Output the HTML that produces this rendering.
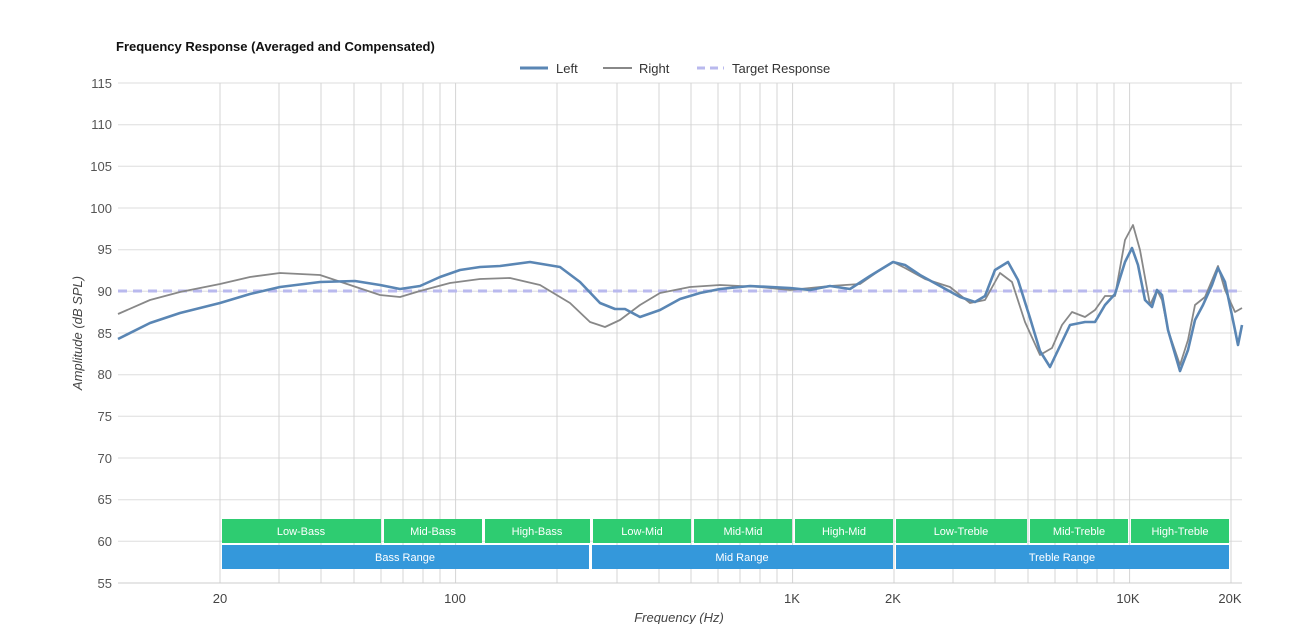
<!DOCTYPE html>
<html><head><meta charset="utf-8"><style>
body{margin:0;background:#fff;}
svg{display:block;font-family:"Liberation Sans",Arial,sans-serif;}
</style></head><body>
<svg width="1307" height="624" viewBox="0 0 1307 624">
<rect width="1307" height="624" fill="#fff"/>
<text x="116" y="51" font-size="13" font-weight="bold" fill="#111">Frequency Response (Averaged and Compensated)</text>
<g stroke="#ddd" stroke-width="1">
<line x1="118" x2="1242" y1="83" y2="83"/><line x1="118" x2="1242" y1="124.7" y2="124.7"/><line x1="118" x2="1242" y1="166.3" y2="166.3"/><line x1="118" x2="1242" y1="208" y2="208"/><line x1="118" x2="1242" y1="249.7" y2="249.7"/><line x1="118" x2="1242" y1="291.3" y2="291.3"/><line x1="118" x2="1242" y1="333" y2="333"/><line x1="118" x2="1242" y1="374.7" y2="374.7"/><line x1="118" x2="1242" y1="416.3" y2="416.3"/><line x1="118" x2="1242" y1="458" y2="458"/><line x1="118" x2="1242" y1="499.7" y2="499.7"/><line x1="118" x2="1242" y1="541.3" y2="541.3"/>
</g>
<g stroke="#d4d4d4" stroke-width="1">
<line x1="220" x2="220" y1="83" y2="583"/><line x1="279" x2="279" y1="83" y2="583"/><line x1="321" x2="321" y1="83" y2="583"/><line x1="354" x2="354" y1="83" y2="583"/><line x1="381" x2="381" y1="83" y2="583"/><line x1="403" x2="403" y1="83" y2="583"/><line x1="423" x2="423" y1="83" y2="583"/><line x1="440" x2="440" y1="83" y2="583"/><line x1="455.6" x2="455.6" y1="83" y2="583"/><line x1="557" x2="557" y1="83" y2="583"/><line x1="617" x2="617" y1="83" y2="583"/><line x1="659" x2="659" y1="83" y2="583"/><line x1="691" x2="691" y1="83" y2="583"/><line x1="718" x2="718" y1="83" y2="583"/><line x1="740" x2="740" y1="83" y2="583"/><line x1="760" x2="760" y1="83" y2="583"/><line x1="777" x2="777" y1="83" y2="583"/><line x1="792.6" x2="792.6" y1="83" y2="583"/><line x1="894" x2="894" y1="83" y2="583"/><line x1="953" x2="953" y1="83" y2="583"/><line x1="995" x2="995" y1="83" y2="583"/><line x1="1028" x2="1028" y1="83" y2="583"/><line x1="1055" x2="1055" y1="83" y2="583"/><line x1="1077" x2="1077" y1="83" y2="583"/><line x1="1097" x2="1097" y1="83" y2="583"/><line x1="1114" x2="1114" y1="83" y2="583"/><line x1="1129.6" x2="1129.6" y1="83" y2="583"/><line x1="1231" x2="1231" y1="83" y2="583"/>
</g>
<line x1="118" x2="1242" y1="583" y2="583" stroke="#ccc"/>
<g font-size="13" fill="#555" text-anchor="end">
<text x="112" y="88">115</text><text x="112" y="129">110</text><text x="112" y="171">105</text><text x="112" y="213">100</text><text x="112" y="254">95</text><text x="112" y="296">90</text><text x="112" y="338">85</text><text x="112" y="379">80</text><text x="112" y="421">75</text><text x="112" y="463">70</text><text x="112" y="504">65</text><text x="112" y="546">60</text><text x="112" y="588">55</text>
</g>
<g font-size="13" fill="#444" text-anchor="middle">
<text x="220" y="603">20</text><text x="455" y="603">100</text><text x="792" y="603">1K</text><text x="893" y="603">2K</text><text x="1128" y="603">10K</text><text x="1230" y="603">20K</text>
</g>
<text x="679" y="622" font-size="13" font-style="italic" fill="#444" text-anchor="middle">Frequency (Hz)</text>
<text transform="translate(82,333) rotate(-90)" font-size="13" font-style="italic" fill="#444" text-anchor="middle">Amplitude (dB SPL)</text>
<!-- bands -->
<g fill="#2ecc71"><rect x="222" y="519" width="159" height="24"/><rect x="384" y="519" width="98" height="24"/><rect x="485" y="519" width="105" height="24"/><rect x="593" y="519" width="98" height="24"/><rect x="694" y="519" width="98" height="24"/><rect x="795" y="519" width="98" height="24"/><rect x="896" y="519" width="131" height="24"/><rect x="1030" y="519" width="98" height="24"/><rect x="1131" y="519" width="98" height="24"/></g>
<g fill="#3498db"><rect x="222" y="545" width="367" height="24"/><rect x="592" y="545" width="301" height="24"/><rect x="896" y="545" width="333" height="24"/></g>
<g font-size="11" fill="#fff" text-anchor="middle">
<text x="301" y="535">Low-Bass</text><text x="433" y="535">Mid-Bass</text><text x="537" y="535">High-Bass</text><text x="642" y="535">Low-Mid</text><text x="743" y="535">Mid-Mid</text><text x="844" y="535">High-Mid</text><text x="961" y="535">Low-Treble</text><text x="1079" y="535">Mid-Treble</text><text x="1180" y="535">High-Treble</text>
<text x="405" y="561">Bass Range</text><text x="742" y="561">Mid Range</text><text x="1062" y="561">Treble Range</text>
</g>
<!-- target -->
<line x1="118" x2="1242" y1="291" y2="291" stroke="#b9b9ee" stroke-width="3" stroke-dasharray="9,6"/>
<!-- right -->
<polyline fill="none" stroke="#888" stroke-width="1.8" stroke-linejoin="round" points="118,314 150,300 180,292 220,284 250,277 280,273 320,275 350,285 380,295 400,297 420,291 450,283 480,279 510,278 540,285 570,303 590,322 605,327 620,320 640,305 660,293 690,287 720,285 760,287 790,290 810,288 830,286 860,284 880,270 893,262 905,268 925,279 950,287 970,303 985,300 1000,273 1012,282 1025,322 1040,355 1052,348 1062,325 1072,312 1085,317 1095,310 1105,296 1115,296 1125,240 1133,225 1140,250 1150,305 1157,290 1162,300 1168,330 1180,365 1188,340 1195,305 1205,297 1218,266 1225,290 1235,312 1242,308"/>
<!-- left -->
<polyline fill="none" stroke="#5a86b4" stroke-width="2.6" stroke-linejoin="round" points="118,339 150,323 180,313 220,303 250,294 280,287 320,282 355,281 380,285 400,289 420,286 440,277 460,270 480,267 500,266 530,262 560,267 580,282 600,303 615,309 625,309 640,317 660,310 680,299 700,293 720,289 750,286 790,288 810,290 830,286 850,289 870,276 893,262 905,265 920,275 940,286 960,297 975,302 985,296 995,270 1008,262 1018,280 1030,318 1040,351 1050,367 1060,346 1070,325 1085,322 1095,322 1105,305 1115,294 1125,262 1132,248 1138,265 1145,300 1152,307 1157,290 1162,295 1168,330 1180,371 1188,350 1195,320 1203,305 1212,285 1218,268 1225,282 1235,330 1238,345 1242,325"/>
<!-- legend -->
<line x1="520" x2="548" y1="68" y2="68" stroke="#5a86b4" stroke-width="3"/>
<text x="556" y="73" font-size="13" fill="#333">Left</text>
<line x1="603" x2="632" y1="68" y2="68" stroke="#888" stroke-width="2"/>
<text x="639" y="73" font-size="13" fill="#333">Right</text>
<line x1="697" x2="724" y1="68" y2="68" stroke="#b9b9ee" stroke-width="3" stroke-dasharray="8,5"/>
<text x="732" y="73" font-size="13" fill="#333">Target Response</text>
</svg>
</body></html>
